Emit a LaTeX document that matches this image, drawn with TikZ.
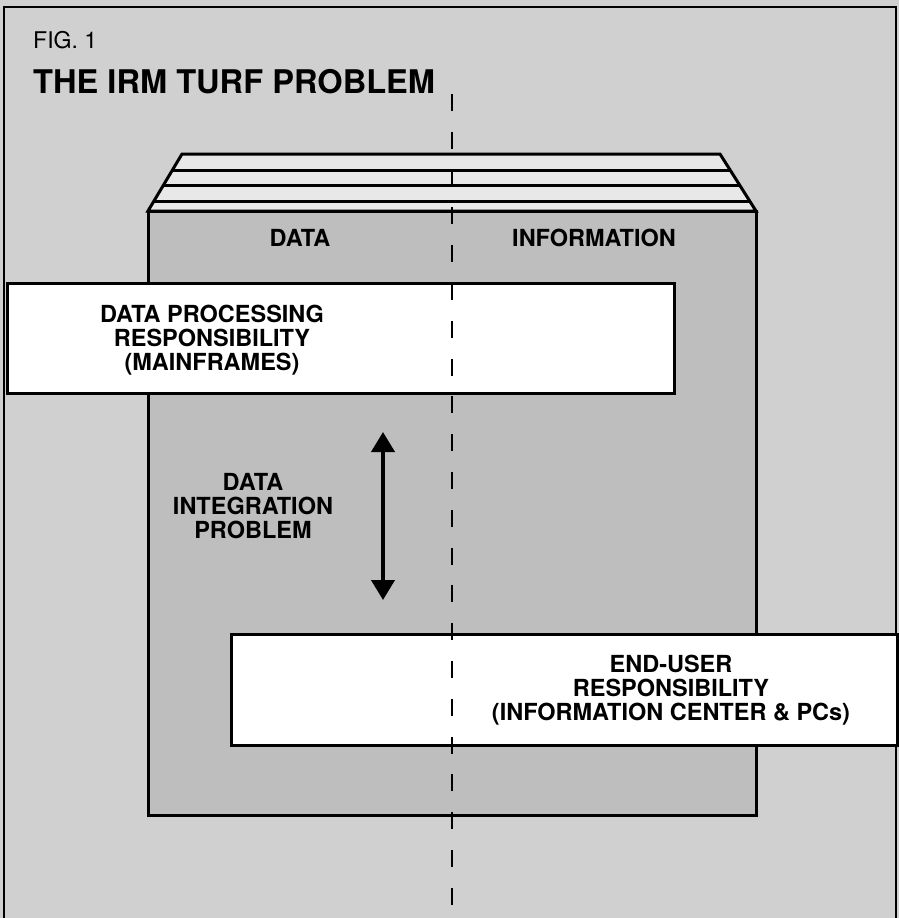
\documentclass[tikz,border=0pt]{standalone}
\usepackage{fontspec}
\setmainfont{TeX Gyre Heros}
\usetikzlibrary{arrows.meta,calc}
\definecolor{bggray}{RGB}{208,208,208}
\definecolor{frontgray}{RGB}{190,190,190}
\definecolor{stackgray}{RGB}{232,232,232}
\begin{document}
\begin{tikzpicture}[x=1pt,y=-1pt,
  outline/.style={draw=black,line width=3pt},
  whitebox/.style={outline,fill=white,inner sep=0pt,anchor=north west},
  lbl/.style={font=\fontsize{23.5}{24}\selectfont\bfseries,align=center,inner sep=0pt},
  divider/.style={line width=2.5pt,dash pattern=on 17pt off 20.8pt},
  dbl/.style={line width=4pt,{Triangle[width=23pt,length=20pt]}-{Triangle[width=23pt,length=20pt]}}]
\useasboundingbox (0,0) rectangle (899,918);
\fill[bggray] (0,0) rectangle (899,918);
\draw[line width=2pt] (4,918) -- (4,7) -- (896,7) -- (896,918);
% stack of layers
\coordinate (tl) at (182,154);
\coordinate (tr) at (720,154);
\coordinate (fl) at (148,211);
\coordinate (fr) at (756,211);
\coordinate (br) at (756,815);
\draw[outline,fill=stackgray,line join=miter] (tl) -- (tr) -- (fr) -- (fl) -- cycle;
\foreach \f in {0.281,0.544,0.825}
  \draw[outline] ($(tl)!\f!(fl)$) -- ($(tr)!\f!(fr)$);
% front box
\draw[outline,fill=frontgray] (fl) rectangle (br);
% white boxes
\node (dpbox) [whitebox,minimum width=667pt,minimum height=110pt] at (6,282) {};
\node (eubox) [whitebox,minimum width=666pt,minimum height=111pt] at (230,633) {};
% arrow
\coordinate (atop) at (383,432);
\coordinate (abot) at (383,600);
\draw[dbl] (atop) -- (abot);
% dashed divider
\coordinate (dtop) at (452,94);
\coordinate (dbot) at (452,918);
\draw[divider] (dtop) -- (dbot);
% texts
\node (fig) [font=\fontsize{23}{24}\selectfont,inner sep=0pt,anchor=base west] at (33,48) {FIG. 1};
\node (title) [font=\fontsize{32.6}{34}\selectfont\bfseries,inner sep=0pt,anchor=base west] at (33,93) {THE IRM TURF PROBLEM};
\node (hdata) [lbl,anchor=base] at (300,246) {DATA};
\node (hinfo) [lbl,anchor=base] at (594,246) {INFORMATION};
\node (dptext) [lbl] at (212,340) {DATA PROCESSING\\RESPONSIBILITY\\(MAINFRAMES)};
\node (ditext) [lbl] at (253,506) {DATA\\INTEGRATION\\PROBLEM};
\node (eutext) [lbl] at (671,690) {END-USER\\RESPONSIBILITY\\(INFORMATION CENTER \& PCs)};
\end{tikzpicture}
\end{document}
